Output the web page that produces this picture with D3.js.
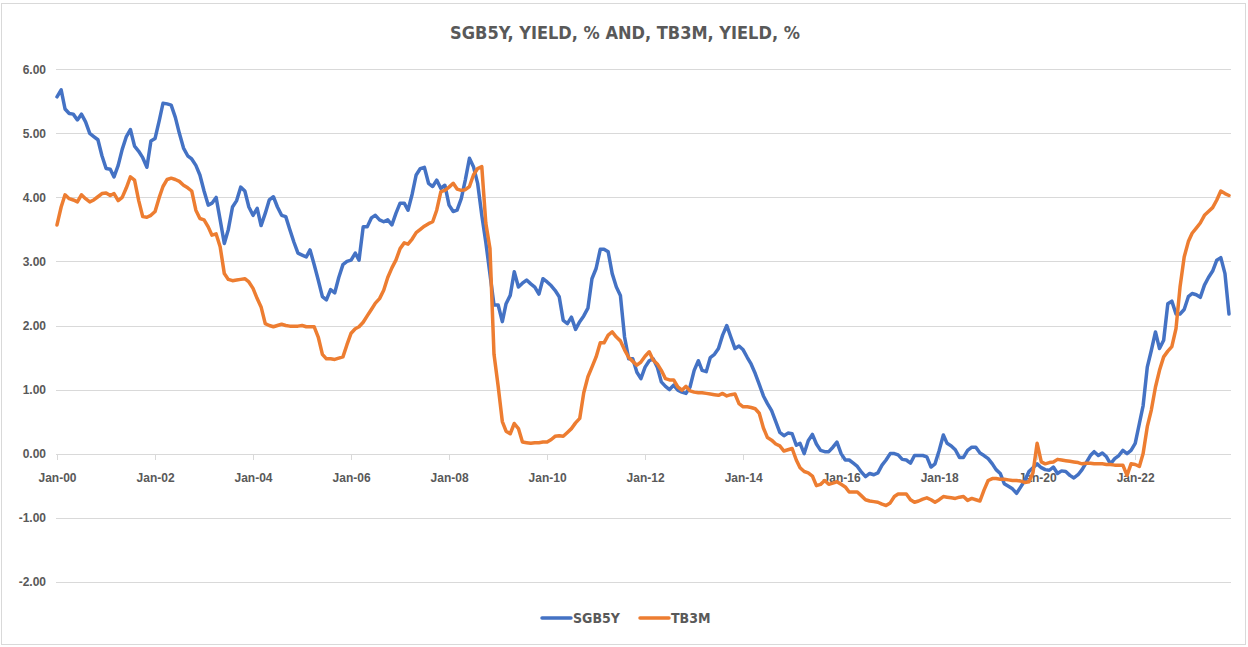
<!DOCTYPE html>
<meta charset="utf-8">
<style>
body { margin: 0; background: #fff; }
svg { display: block; font-family: "Liberation Sans Narrow", "DejaVu Sans Condensed", "Roboto", sans-serif; }
.grid line { stroke: #d9d9d9; stroke-width: 1; shape-rendering: crispEdges; }
.axis path, .axis line { stroke: #d9d9d9; shape-rendering: crispEdges; }
.axis text { fill: #595959; font-weight: bold; }
.series { fill: none; stroke-width: 3.5; stroke-linejoin: round; stroke-linecap: round; }
</style>
<body>
<div id="chart"></div>
<script src="https://cdn.jsdelivr.net/npm/d3@7"></script>
<script>
// monthly observations, Jan-2000 .. Dec-2023 (12 values per row = one year)
var startYear = 2000;

var sgb5y = [
  5.57, 5.68, 5.38, 5.31, 5.30, 5.21, 5.30, 5.18, 5.00, 4.95, 4.90, 4.65,
  4.45, 4.44, 4.32, 4.50, 4.75, 4.95, 5.06, 4.80, 4.72, 4.62, 4.47, 4.88,
  4.92, 5.20, 5.47, 5.46, 5.44, 5.25, 5.00, 4.77, 4.65, 4.60, 4.50, 4.35,
  4.10, 3.88, 3.91, 4.00, 3.65, 3.28, 3.50, 3.85, 3.95, 4.16, 4.10, 3.85,
  3.72, 3.83, 3.56, 3.75, 3.96, 4.01, 3.85, 3.72, 3.70, 3.50, 3.30, 3.13,
  3.10, 3.07, 3.18, 2.95, 2.71, 2.45, 2.40, 2.56, 2.51, 2.75, 2.95, 3.00,
  3.02, 3.13, 3.02, 3.54, 3.54, 3.68, 3.72, 3.65, 3.62, 3.65, 3.57, 3.75,
  3.91, 3.91, 3.80, 4.05, 4.35, 4.45, 4.47, 4.22, 4.17, 4.27, 4.14, 4.19,
  3.88, 3.78, 3.80, 3.98, 4.27, 4.61, 4.48, 4.22, 3.72, 3.30, 2.80, 2.32,
  2.32, 2.06, 2.34, 2.47, 2.84, 2.60, 2.66, 2.71, 2.65, 2.60, 2.49, 2.73,
  2.68, 2.62, 2.55, 2.45, 2.08, 2.03, 2.13, 1.94, 2.06, 2.15, 2.27, 2.73,
  2.89, 3.19, 3.19, 3.15, 2.81, 2.60, 2.47, 1.82, 1.48, 1.48, 1.27, 1.17,
  1.35, 1.45, 1.48, 1.35, 1.12, 1.05, 1.00, 1.07, 0.99, 0.96, 0.94, 1.04,
  1.30, 1.45, 1.30, 1.28, 1.50, 1.55, 1.64, 1.85, 2.00, 1.82, 1.64, 1.68,
  1.62, 1.50, 1.40, 1.25, 1.08, 0.90, 0.78, 0.67, 0.50, 0.33, 0.28, 0.32,
  0.31, 0.13, 0.16, 0.00, 0.20, 0.30, 0.15, 0.05, 0.03, 0.03, 0.10, 0.18,
  0.00, -0.10, -0.10, -0.15, -0.20, -0.29, -0.36, -0.31, -0.33, -0.30, -0.18, -0.10,
  0.00, 0.00, -0.02, -0.09, -0.10, -0.15, -0.03, -0.03, -0.03, -0.05, -0.21, -0.16,
  0.05, 0.29, 0.16, 0.12, 0.06, -0.06, -0.06, 0.05, 0.10, 0.10, 0.01, -0.03,
  -0.08, -0.16, -0.25, -0.31, -0.47, -0.51, -0.55, -0.62, -0.52, -0.42, -0.28, -0.22,
  -0.16, -0.22, -0.25, -0.26, -0.21, -0.31, -0.27, -0.28, -0.34, -0.38, -0.33, -0.25,
  -0.14, -0.03, 0.03, -0.03, 0.01, -0.05, -0.16, -0.08, -0.03, 0.05, 0.00, 0.05,
  0.16, 0.47, 0.75, 1.35, 1.61, 1.90, 1.64, 1.77, 2.34, 2.38, 2.18, 2.18,
  2.25, 2.45, 2.50, 2.48, 2.44, 2.63, 2.75, 2.85, 3.02, 3.06, 2.81, 2.18
];

var tb3m = [
  3.57, 3.85, 4.04, 3.98, 3.96, 3.93, 4.04, 3.98, 3.93, 3.96, 4.01, 4.06,
  4.07, 4.03, 4.06, 3.95, 4.00, 4.15, 4.32, 4.27, 3.95, 3.70, 3.69, 3.72,
  3.78, 4.00, 4.17, 4.28, 4.30, 4.28, 4.25, 4.19, 4.15, 4.10, 3.80, 3.67,
  3.65, 3.54, 3.41, 3.43, 3.23, 2.81, 2.72, 2.70, 2.71, 2.72, 2.73, 2.68,
  2.58, 2.42, 2.29, 2.03, 2.00, 1.98, 2.00, 2.02, 2.00, 1.99, 1.99, 1.99,
  2.00, 1.98, 1.98, 1.98, 1.82, 1.55, 1.48, 1.48, 1.47, 1.49, 1.51, 1.70,
  1.88, 1.95, 1.98, 2.05, 2.15, 2.25, 2.35, 2.42, 2.55, 2.75, 2.90, 3.02,
  3.20, 3.29, 3.27, 3.35, 3.45, 3.50, 3.55, 3.59, 3.62, 3.80, 4.09, 4.11,
  4.16, 4.22, 4.13, 4.11, 4.12, 4.17, 4.35, 4.45, 4.48, 3.60, 3.20, 1.55,
  1.05, 0.50, 0.35, 0.31, 0.47, 0.39, 0.18, 0.17, 0.16, 0.17, 0.17, 0.18,
  0.18, 0.22, 0.27, 0.28, 0.27, 0.33, 0.39, 0.48, 0.55, 0.95, 1.20, 1.35,
  1.51, 1.73, 1.73, 1.85, 1.90, 1.82, 1.76, 1.62, 1.50, 1.44, 1.38, 1.43,
  1.52, 1.59, 1.46, 1.40, 1.30, 1.17, 1.15, 1.15, 1.04, 0.99, 1.05, 0.98,
  0.96, 0.95, 0.95, 0.94, 0.93, 0.92, 0.91, 0.94, 0.90, 0.92, 0.93, 0.78,
  0.73, 0.73, 0.72, 0.70, 0.63, 0.40, 0.25, 0.21, 0.15, 0.12, 0.04, 0.06,
  0.08, -0.10, -0.22, -0.28, -0.30, -0.35, -0.50, -0.48, -0.42, -0.48, -0.46, -0.44,
  -0.48, -0.52, -0.60, -0.60, -0.60, -0.66, -0.72, -0.74, -0.75, -0.76, -0.79, -0.81,
  -0.77, -0.67, -0.63, -0.63, -0.63, -0.72, -0.76, -0.74, -0.71, -0.69, -0.72, -0.76,
  -0.72, -0.67, -0.68, -0.69, -0.70, -0.68, -0.67, -0.73, -0.70, -0.72, -0.74, -0.57,
  -0.42, -0.39, -0.39, -0.40, -0.40, -0.41, -0.42, -0.42, -0.43, -0.45, -0.44, -0.30,
  0.16, -0.13, -0.16, -0.14, -0.13, -0.09, -0.10, -0.11, -0.12, -0.13, -0.14, -0.16,
  -0.15, -0.15, -0.16, -0.16, -0.16, -0.17, -0.17, -0.18, -0.18, -0.18, -0.34, -0.16,
  -0.17, -0.20, 0.00, 0.42, 0.68, 1.04, 1.30, 1.51, 1.60, 1.67, 1.95, 2.60,
  3.07, 3.31, 3.44, 3.52, 3.60, 3.72, 3.78, 3.84, 3.96, 4.10, 4.06, 4.03
];

var yTicks = [-2, -1, 0, 1, 2, 3, 4, 5, 6];
var seriesNames = ["SGB5Y", "TB3M"];
var colors = ["#4472c4", "#ed7d31"];

var width = 1248, height = 647;

var months = sgb5y.map(function(d, i) { return new Date(startYear, i, 1); });

var x = d3.scaleTime()
    .domain([months[0], months[months.length - 1]])
    .range([57, 1229]);

var y = d3.scaleLinear()
    .domain([-2, 6])
    .range([581.7, 69.3]);

var svg = d3.select("#chart").append("svg")
    .attr("width", width)
    .attr("height", height);

// outer frame
svg.append("rect")
    .attr("x", 1.5).attr("y", 3.5)
    .attr("width", 1244).attr("height", 641)
    .attr("fill", "#fff")
    .attr("stroke", "#d9d9d9");

svg.append("text")
    .attr("x", 625)
    .attr("y", 39)
    .attr("text-anchor", "middle")
    .style("font-size", "18px")
    .style("font-weight", "bold")
    .style("fill", "#595959")
    .text("SGB5Y, YIELD, % AND, TB3M, YIELD, %");

// horizontal gridlines
svg.append("g")
    .attr("class", "grid")
    .selectAll("line")
    .data(yTicks)
    .enter().append("line")
    .attr("x1", 56)
    .attr("x2", 1231)
    .attr("y1", function(d) { return Math.round(y(d)) + 0.5; })
    .attr("y2", function(d) { return Math.round(y(d)) + 0.5; });

// y labels
var yAxis = svg.append("g")
    .attr("class", "axis")
    .attr("transform", "translate(52,0)")
    .call(d3.axisLeft(y).tickValues(yTicks).tickSize(0).tickPadding(6)
        .tickFormat(function(d) { return d.toFixed(2); }));
yAxis.select(".domain").remove();
yAxis.selectAll("text").style("font-size", "12px");

// x axis sits on zero
var xTicks = d3.timeYear.every(2).range(new Date(startYear, 0, 1), new Date(2024, 0, 1));
var xAxis = svg.append("g")
    .attr("class", "axis")
    .attr("transform", "translate(0," + (Math.round(y(0)) + 0.5) + ")")
    .call(d3.axisBottom(x).tickValues(xTicks).tickSize(5).tickPadding(14)
        .tickFormat(d3.timeFormat("%b-%y")));
xAxis.select(".domain").attr("d", "M56,0H1231");
xAxis.selectAll("text").style("font-size", "12px");

var line = d3.line()
    .x(function(d, i) { return x(months[i]); })
    .y(function(d) { return y(d); });

svg.selectAll(".series")
    .data([sgb5y, tb3m])
    .enter().append("path")
    .attr("class", "series")
    .attr("stroke", function(d, i) { return colors[i]; })
    .attr("d", line);

// legend
var legend = svg.selectAll(".legend")
    .data(seriesNames)
    .enter().append("g")
    .attr("class", "legend")
    .attr("transform", function(d, i) { return "translate(" + (542 + i * 98) + ",618)"; });

legend.append("line")
    .attr("x1", 0).attr("x2", 29)
    .attr("stroke", function(d, i) { return colors[i]; })
    .attr("stroke-width", 3.5)
    .attr("stroke-linecap", "round");

legend.append("text")
    .attr("x", 31)
    .attr("dy", "0.35em")
    .style("font-size", "14px")
    .style("font-weight", "bold")
    .style("fill", "#595959")
    .text(function(d) { return d; });
</script>
</body>
